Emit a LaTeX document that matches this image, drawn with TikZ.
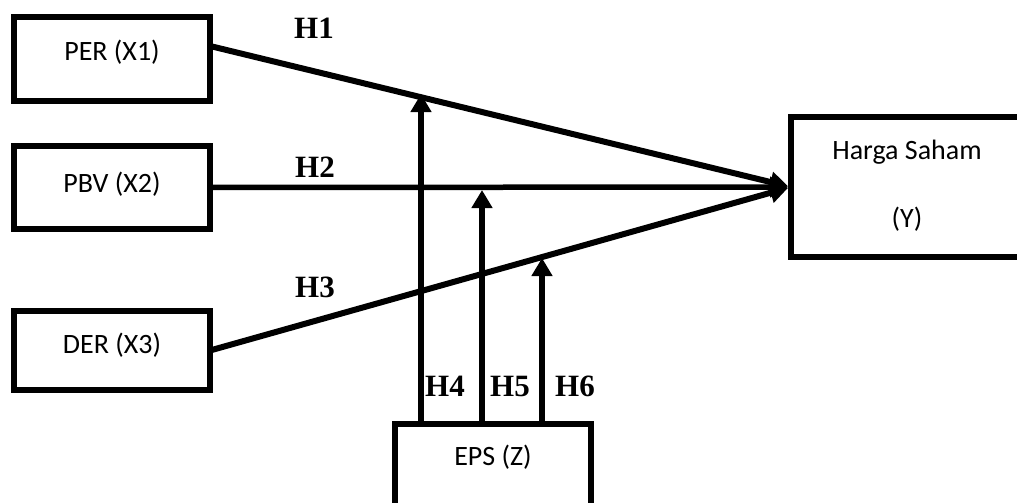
\documentclass[tikz,border=0pt]{standalone}
\usepackage{fontspec}
\setmainfont{Carlito}
\newfontfamily\hfont{Liberation Serif}
\usetikzlibrary{arrows.meta,calc}
\begin{document}
\begin{tikzpicture}[x=0.5pt,y=-0.5pt,
  box/.style={draw=black,line width=3pt,minimum width=98pt,inner sep=0pt,outer sep=0pt},
  txt/.style={anchor=base,font=\fontsize{14}{16}\selectfont,inner sep=0pt},
  hl/.style={anchor=base,font=\hfont\bfseries\fontsize{15.5}{18}\selectfont,inner sep=0pt},
  arr/.style={line width=3pt,-{Triangle[length=9pt,width=10pt]}}]
\clip (0,0) rectangle (1017,503);
% boxes
\node[box,minimum height=42pt] (per) at (112,59) {};
\node[box,minimum height=41.5pt] (pbv) at (112,187.5) {};
\node[box,minimum height=39.5pt] (der) at (112,350.5) {};
\node[box,minimum width=116pt,minimum height=70pt] (y) at (907,187) {};
\node[box,minimum height=50pt] (eps) at (493,474) {};
% box texts
\node[txt] (tper) at (112,60) {PER (X1)};
\node[txt] (tpbv) at (112,192) {PBV (X2)};
\node[txt] (tder) at (112,353) {DER (X3)};
\node[txt] (ty1) at (907,159) {Harga Saham};
\node[txt] (ty2) at (907,227) {(Y)};
\node[txt] (teps) at (493,465) {EPS (Z)};
% connectors to Y
\draw[arr,shorten >=1.5pt] ([yshift=6.5pt]per.east) -- (y.west);
\draw[arr,shorten >=1.5pt,line width=2.75pt] (pbv.east) -- (y.west);
\draw[arr,shorten >=1.5pt] (der.east) -- (y.west);
% moderation arrows
\coordinate (t4) at (421,94);
\coordinate (t5) at (482,190);
\coordinate (t6) at (542,258);
\draw[arr] (eps.north -| t4) -- (t4);
\draw[arr] (eps.north -| t5) -- (t5);
\draw[arr] (eps.north -| t6) -- (t6);
% hypothesis labels
\node[hl] (h1) at (314,39) {H1};
\node[hl] (h2) at (315,177) {H2};
\node[hl] (h3) at (315,297) {H3};
\node[hl] (h4) at (445,396) {H4};
\node[hl] (h5) at (510,396) {H5};
\node[hl] (h6) at (575,396) {H6};
\end{tikzpicture}
\end{document}
